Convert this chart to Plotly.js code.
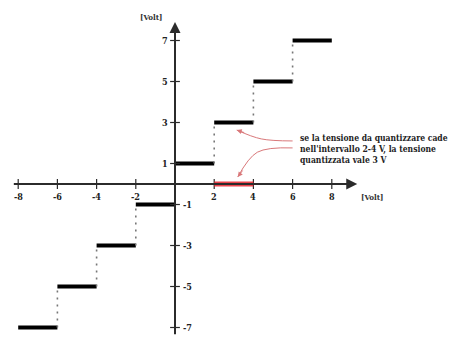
<!DOCTYPE html>
<html>
<head>
<meta charset="utf-8">
<script src="https://cdn.plot.ly/plotly-3.0.1.min.js"></script>
<style>
  html, body { margin: 0; padding: 0; background: #fff; }
  #chart { width: 454px; height: 341px; }
</style>
</head>
<body>
<div id="chart"></div>
<script>
// Quantizer transfer characteristic: input voltage -> quantized output voltage
const xTicks = [-8, -6, -4, -2, 2, 4, 6, 8];
const yTicks = [-7, -5, -3, -1, 1, 3, 5, 7];
const stepStarts = [-8, -6, -4, -2, 0, 2, 4, 6];
const stepLevels = [-7, -5, -3, -1, 1, 3, 5, 7];
const stepWidth = 2;
const highlightInterval = [2, 4];
const highlightLevel = 3;
const axisUnit = '[Volt]';
const noteText = 'se la tensione da quantizzare cade<br>nell\'intervallo 2-4 V, la tensione<br>quantizzata vale 3 V';

const serif = '"DejaVu Serif Condensed", "DejaVu Serif", serif';
const axisColor = '#2b2b2b';
const noteColor = '#d9787a';

const traces = [];

// horizontal quantization steps
const sx = [], sy = [];
stepStarts.forEach((s, i) => {
  sx.push(s, s + stepWidth, null);
  sy.push(stepLevels[i], stepLevels[i], null);
});
traces.push({ x: sx, y: sy, mode: 'lines', line: { color: '#000', width: 4 }, hoverinfo: 'skip' });

// dotted risers joining consecutive steps (none at the origin)
const rx = [], ry = [];
for (let i = 1; i < stepStarts.length; i++) {
  if (stepStarts[i] === 0) continue;
  rx.push(stepStarts[i], stepStarts[i], null);
  ry.push(stepLevels[i - 1], stepLevels[i], null);
}
traces.push({ x: rx, y: ry, mode: 'lines', line: { color: '#777', width: 1.6, dash: '2px,5px' }, hoverinfo: 'skip' });

// tick marks on both axes
traces.push({ x: xTicks, y: xTicks.map(() => 0), mode: 'markers',
  marker: { symbol: 'line-ns', size: 7, line: { color: axisColor, width: 1.2 } }, hoverinfo: 'skip' });
traces.push({ x: yTicks.map(() => 0), y: yTicks, mode: 'markers',
  marker: { symbol: 'line-ew', size: 7, line: { color: axisColor, width: 1.2 } }, hoverinfo: 'skip' });

// highlighted input interval on the x axis
traces.push({ x: highlightInterval, y: [0, 0], mode: 'lines',
  line: { color: 'rgba(230,35,45,0.85)', width: 5 }, hoverinfo: 'skip' });

// curved pointers from the note to the step and to the interval
const noteX = 6.0;
const upper = {
  x: [noteX, highlightInterval[0] + 2.4, highlightInterval[0] + 1.15],
  y: [highlightLevel - 0.9, highlightLevel - 0.8, highlightLevel - 0.37]
};
const lower = {
  x: [noteX, highlightInterval[0] + 2.2, highlightInterval[0] + 1.2],
  y: [highlightLevel - 1.24, highlightLevel - 1.45, 0.34]
};
[upper, lower].forEach(c => traces.push({ x: c.x, y: c.y, mode: 'lines',
  line: { color: noteColor, width: 1, shape: 'spline', smoothing: 1 }, hoverinfo: 'skip' }));

const annotations = [];

// axes drawn as arrows
annotations.push({ x: 9.3, y: 0, ax: -8.3, ay: 0, axref: 'x', ayref: 'y', xref: 'x', yref: 'y',
  text: '', showarrow: true, arrowhead: 2, arrowsize: 1.1, arrowwidth: 2, arrowcolor: axisColor, standoff: 0 });
annotations.push({ x: 0, y: 7.9, ax: 0, ay: -7.4, axref: 'x', ayref: 'y', xref: 'x', yref: 'y',
  text: '', showarrow: true, arrowhead: 2, arrowsize: 1.1, arrowwidth: 2, arrowcolor: axisColor, standoff: 0 });

// arrowheads of the pointers
annotations.push({ x: upper.x[2], y: upper.y[2], ax: 9, ay: 3, xref: 'x', yref: 'y', text: '',
  showarrow: true, arrowhead: 2, arrowsize: 1, arrowwidth: 1, arrowcolor: noteColor, standoff: 0 });
annotations.push({ x: lower.x[2], y: lower.y[2], ax: 6, ay: -8, xref: 'x', yref: 'y', text: '',
  showarrow: true, arrowhead: 2, arrowsize: 1, arrowwidth: 1, arrowcolor: noteColor, standoff: 0 });

const tickFont = { family: serif, size: 9, color: '#222', weight: 'bold' };
xTicks.forEach(v => annotations.push({ x: v, y: 0, xref: 'x', yref: 'y', text: String(v),
  showarrow: false, yshift: -13, font: tickFont }));
yTicks.forEach(v => annotations.push({ x: 0, y: v, xref: 'x', yref: 'y', text: String(v),
  showarrow: false, xshift: v > 0 ? -10 : 12, font: tickFont }));

// axis unit labels
const unitFont = { family: serif, size: 8, color: '#333', weight: 'bold' };
annotations.push({ x: 0, y: 7.9, xref: 'x', yref: 'y', text: axisUnit, showarrow: false,
  xshift: -24, yshift: 5, font: unitFont });
annotations.push({ x: 9.3, y: 0, xref: 'x', yref: 'y', text: axisUnit, showarrow: false,
  xanchor: 'left', xshift: 2, yshift: -13, font: unitFont });

// explanatory note
annotations.push({ x: noteX + 0.3, y: highlightLevel - 1.3, xref: 'x', yref: 'y', text: noteText,
  showarrow: false, xanchor: 'left', yanchor: 'middle', align: 'left',
  font: { family: serif, size: 8.5, color: '#222', weight: 'bold' } });

const layout = {
  width: 454, height: 341,
  margin: { l: 0, r: 0, t: 0, b: 0 },
  paper_bgcolor: '#fff', plot_bgcolor: '#fff',
  showlegend: false,
  xaxis: { range: [-175 / 19.6, 279 / 19.6], visible: false, fixedrange: true },
  yaxis: { range: [-157 / 20.5, 184 / 20.5], visible: false, fixedrange: true },
  annotations: annotations
};

Plotly.newPlot('chart', traces, layout, { staticPlot: true, displayModeBar: false });
</script>
</body>
</html>
